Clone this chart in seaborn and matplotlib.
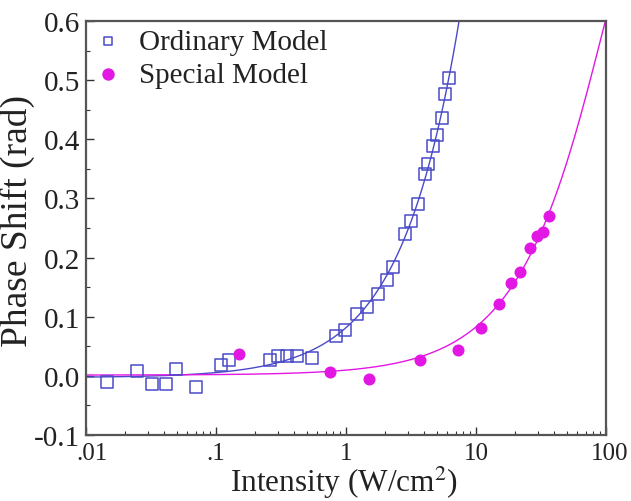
import numpy as np
import pandas as pd
import matplotlib
matplotlib.use("Agg")
import matplotlib.pyplot as plt
import matplotlib.transforms as mtransforms
import seaborn as sns
from matplotlib.ticker import FixedLocator, FixedFormatter, LogLocator, NullFormatter, MultipleLocator

# Ordinary model: intensity (W/cm^2) and measured phase shift (rad)
ordinary_intensity = [0.0144, 0.0245, 0.032, 0.041, 0.049, 0.070, 0.109, 0.126,
                      0.26, 0.30, 0.35, 0.42, 0.545, 0.84, 0.98, 1.21, 1.44,
                      1.77, 2.05, 2.31, 2.82, 3.15, 3.60, 4.06, 4.30, 4.65,
                      4.99, 5.45, 5.78, 6.2]
ordinary_shift = [-0.010, 0.009, -0.013, -0.013, 0.012, -0.019, 0.018, 0.026,
                  0.026, 0.033, 0.033, 0.034, 0.030, 0.068, 0.077, 0.105, 0.117,
                  0.139, 0.162, 0.184, 0.240, 0.261, 0.291, 0.342, 0.358, 0.389,
                  0.407, 0.436, 0.476, 0.503]

# Special model
special_intensity = [0.151, 0.753, 1.49, 3.71, 7.31, 10.9, 14.9, 18.5, 21.8,
                     26.0, 29.6, 33.0, 36.7]
special_shift = [0.037, 0.007, -0.005, 0.027, 0.043, 0.081, 0.121, 0.157, 0.175,
                 0.216, 0.236, 0.244, 0.271]

x_ticks = [0.01, 0.1, 1, 10, 100]
x_tick_labels = [".01", ".1", "1", "10", "100"]
y_ticks = [-0.1, 0.0, 0.1, 0.2, 0.3, 0.4, 0.5, 0.6]
y_tick_labels = ["-0.1", "0.0", "0.1", "0.2", "0.3", "0.4", "0.5", "0.6"]

blue = "#4a4ac8"
magenta = "#e317e3"

sns.set_theme(style="ticks")
plt.rcParams["font.family"] = ["Liberation Serif", "DejaVu Serif"]
plt.rcParams["mathtext.fontset"] = "stix"

fig = plt.figure(figsize=(6.31, 5.02), dpi=100)
ax = fig.add_axes([0.1363, 0.1315, 0.8241, 0.8247])

df_o = pd.DataFrame({"I": ordinary_intensity, "phi": ordinary_shift})
df_s = pd.DataFrame({"I": special_intensity, "phi": special_shift})

# least-squares fit curves through each data set
grid = np.logspace(-2, 2, 600)
co = np.polyfit(df_o["I"], df_o["phi"], 2)
cs = np.polyfit(df_s["I"], df_s["phi"], 2)
fit_o = pd.DataFrame({"I": grid, "phi": np.polyval(co, grid)})
fit_s = pd.DataFrame({"I": grid, "phi": np.polyval(cs, grid)})
fit_o = fit_o[fit_o["phi"] < 0.7]
fit_s = fit_s[fit_s["phi"] < 0.7]

sns.lineplot(data=fit_o, x="I", y="phi", ax=ax, color=blue, lw=1.0, sort=False, legend=False)
sns.lineplot(data=fit_s, x="I", y="phi", ax=ax, color=magenta, lw=1.0, sort=False, legend=False)

sns.scatterplot(data=df_o, x="I", y="phi", ax=ax, marker="s", s=75,
                facecolor="none", edgecolor=blue, linewidth=1.1,
                label="Ordinary Model", zorder=3)
sns.scatterplot(data=df_s, x="I", y="phi", ax=ax, marker="o", s=75,
                color=magenta, edgecolor=magenta, linewidth=0,
                label="Special Model", zorder=3)

ax.set_xscale("log")
ax.set_xlim(0.01, 100)
ax.set_ylim(-0.1, 0.6)

ax.xaxis.set_major_locator(FixedLocator(x_ticks))
ax.xaxis.set_major_formatter(FixedFormatter(x_tick_labels))
ax.xaxis.set_minor_locator(LogLocator(base=10, subs=np.arange(2, 10)))
ax.xaxis.set_minor_formatter(NullFormatter())
ax.yaxis.set_major_locator(FixedLocator(y_ticks))
ax.yaxis.set_major_formatter(FixedFormatter(y_tick_labels))
ax.yaxis.set_minor_locator(MultipleLocator(0.05))

ax.tick_params(axis="both", which="both", direction="in", top=False, right=False,
               colors="#333333", labelcolor="#222222")
ax.tick_params(axis="both", which="major", length=6, width=1.0)
ax.tick_params(axis="x", which="major", pad=5, labelsize=18)
ax.tick_params(axis="y", which="major", pad=4, labelsize=21)
ax.tick_params(axis="both", which="minor", length=3, width=0.8)

# nudge the corner labels of the x axis slightly to the right
for idx, dx in [(0, 6), (4, 4)]:
    lab = ax.xaxis.get_major_ticks()[idx].label1
    lab.set_transform(lab.get_transform()
                      + mtransforms.ScaledTranslation(dx / 100, 0, fig.dpi_scale_trans))

for sp in ax.spines.values():
    sp.set_visible(True)
    sp.set_color("#555555")
    sp.set_linewidth(1.6)

ax.set_xlabel("Intensity (W/cm$^2$)", fontsize=22.5, color="#222222")
ax.set_ylabel("Phase Shift (rad)", fontsize=27, color="#222222")
ax.xaxis.set_label_coords(0.496, -0.069)
ax.yaxis.set_label_coords(-0.098, 0.52)

leg = ax.legend(loc="upper left", frameon=False, fontsize=21, handletextpad=0.55,
                borderaxespad=0.05, labelspacing=0.22, handlelength=1.0,
                borderpad=0.2)
for t in leg.get_texts():
    t.set_color("#222222")
leg_handles = leg.legend_handles
leg_handles[0].set_sizes([38])
leg_handles[1].set_sizes([80])

fig.savefig("out.png", dpi=100)
